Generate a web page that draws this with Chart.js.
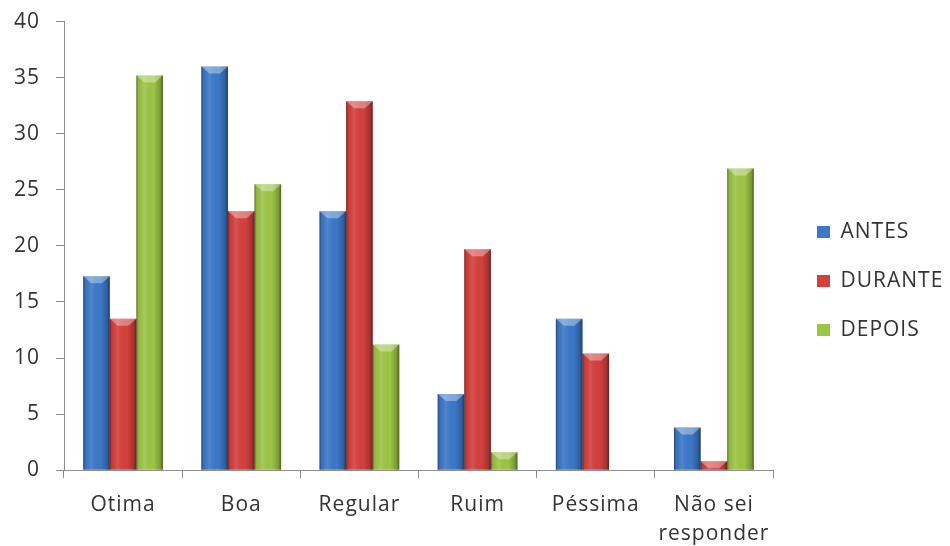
<!DOCTYPE html>
<html>
<head>
<meta charset="utf-8">
<script src="https://cdn.jsdelivr.net/npm/chart.js@4.4.1/dist/chart.umd.min.js"></script>
<style>
  html, body { margin: 0; padding: 0; background: #ffffff; overflow: hidden; }
  #wrap { width: 950px; height: 568px; margin-top: -7px; }
</style>
</head>
<body>
<div id="wrap"><canvas id="c" width="950" height="568"></canvas></div>
<script>
// Avaliação: respostas antes, durante e depois (%)
const categories = ['Otima', 'Boa', 'Regular', 'Ruim', 'Péssima', ['Não sei', 'responder']];
const seriesNames = ['ANTES', 'DURANTE', 'DEPOIS'];
const antes   = [17.3, 36.0, 23.1, 6.8, 13.5, 3.8];
const durante = [13.5, 23.1, 32.9, 19.7, 10.4, 0.8];
const depois  = [35.2, 25.5, 11.2, 1.6, 0, 26.9];
const yTicks  = [0, 5, 10, 15, 20, 25, 30, 35, 40];

const colors = ['#3c78c8', '#d4403d', '#9dc545'];
const axisGray = '#8e8e8e';
const textColor = '#333333';
const FONT = { family: "'Open Sans', sans-serif", size: 21 };

// Slight tracking on all canvas text
const spacingPlugin = {
  id: 'spacing',
  beforeUpdate(chart) { chart.ctx.letterSpacing = '1px'; },
  beforeLayout(chart) { chart.ctx.letterSpacing = '1px'; },
  beforeDraw(chart) { chart.ctx.letterSpacing = '1px'; }
};

// Keep the legend column a little above the vertical middle
const legendLiftPlugin = {
  id: 'legendLift',
  afterLayout(chart) {
    if (chart.legend) chart.legend.bottom -= 6;
  }
};

// Cylinder-like shading and a bevelled cap on each bar
const bevelPlugin = {
  id: 'bevel',
  afterDatasetsDraw(chart) {
    const ctx = chart.ctx;
    chart.data.datasets.forEach((ds, di) => {
      const meta = chart.getDatasetMeta(di);
      meta.data.forEach(bar => {
        const { x, y, base, width } = bar.getProps(['x', 'y', 'base', 'width'], true);
        const h = base - y;
        if (h < 0.5) return;
        const l = x - width / 2, r = x + width / 2;
        ctx.save();
        const g = ctx.createLinearGradient(l, 0, r, 0);
        g.addColorStop(0, 'rgba(0,0,0,0.45)');
        g.addColorStop(0.07, 'rgba(0,0,0,0.08)');
        g.addColorStop(0.3, 'rgba(255,255,255,0.10)');
        g.addColorStop(0.65, 'rgba(0,0,0,0.0)');
        g.addColorStop(0.9, 'rgba(0,0,0,0.22)');
        g.addColorStop(1, 'rgba(0,0,0,0.5)');
        ctx.fillStyle = g;
        ctx.fillRect(l, y, width, h);
        const bh = Math.min(7, h);
        ctx.beginPath();
        ctx.moveTo(l, y);
        ctx.lineTo(r, y);
        ctx.lineTo(r - width * 0.3, y + bh);
        ctx.lineTo(l + width * 0.3, y + bh);
        ctx.closePath();
        ctx.fillStyle = 'rgba(255,255,255,0.35)';
        ctx.fill();
        ctx.restore();
      });
    });
  }
};

const values = [antes, durante, depois];
const datasets = seriesNames.map((name, i) => ({
  label: name,
  data: values[i],
  backgroundColor: colors[i],
  borderWidth: 0,
  categoryPercentage: 0.675,
  barPercentage: 1.0
}));

new Chart(document.getElementById('c'), {
  type: 'bar',
  data: { labels: categories, datasets },
  plugins: [spacingPlugin, legendLiftPlugin, bevelPlugin],
  options: {
    responsive: false,
    animation: false,
    layout: { padding: { top: 14, right: 0, bottom: 0, left: 0 } },
    plugins: {
      tooltip: { enabled: false },
      legend: {
        position: 'right',
        align: 'center',
        maxWidth: 161,
        labels: {
          boxWidth: 13,
          boxHeight: 12,
          padding: 28,
          color: textColor,
          font: FONT
        }
      }
    },
    scales: {
      x: {
        grid: { display: true, drawOnChartArea: false, drawTicks: true, tickLength: 8, color: axisGray },
        border: { display: true, color: axisGray, width: 1 },
        ticks: { color: textColor, font: { ...FONT, lineHeight: 1.4 }, padding: 12, maxRotation: 0, autoSkip: false }
      },
      y: {
        min: 0,
        max: 40,
        afterFit(scale) { scale.width = 64; },
        afterBuildTicks(scale) { scale.ticks = yTicks.map(v => ({ value: v })); },
        grid: { display: true, drawOnChartArea: false, drawTicks: true, tickLength: 8, color: axisGray },
        border: { display: true, color: axisGray, width: 1 },
        ticks: { color: textColor, font: FONT, padding: 16 }
      },
      yGap: {
        position: 'right',
        min: 0,
        max: 40,
        afterFit(scale) { scale.width = 16; },
        grid: { display: false },
        border: { display: false },
        ticks: { display: false }
      }
    }
  }
});
</script>
</body>
</html>
